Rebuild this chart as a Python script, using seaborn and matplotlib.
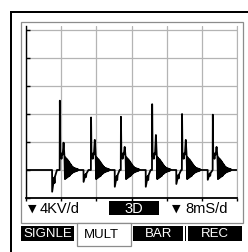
import numpy as np
import pandas as pd
import seaborn as sns
import matplotlib.pyplot as plt
from matplotlib.patches import Rectangle

# readings taken off the scope screen (x in ms, y in kV)
spike_ms = [7.7, 14.8, 21.6, 28.7, 35.5, 42.5]
spike_kv = [9.9, 7.5, 7.6, 9.4, 8.0, 7.9]
dip_lead_ms = [1.75, 1.7, 1.4, 1.45, 1.3, 1.15]
dip_kv = [-3.1, -1.7, -2.4, -2.4, -2.0, -1.4]
hump_kv = [3.9, 4.3, 3.3, 5.0, 4.3, 3.3]

# common pulse shape: fork after the dip, step after the spike, ringing
fork_ms = [0.0, 0.45, 0.55, 0.65, 0.95, 1.1]
fork_frac = [1.0, 0.35, 0.6, 0.3, 0.1, 0.0]
step_ms = [0.1, 0.25, 0.38, 0.5, 0.65]
step_kv = [1.9, 2.3, 1.6, 2.4, 2.2]
ring_kv = [1.9, -1.3, 1.8, -1.2, 1.6, -1.1, 1.5, -1.0, 1.3, -0.9, 1.1, -0.8,
           0.9, -0.6, 0.7, -0.5, 0.5, -0.4, 0.4, -0.3, 0.3, -0.25, 0.25, -0.2,
           0.2, -0.15, 0.15, -0.1, 0.1, 0.0]

x_max_ms = 48
kv_per_div = 4
ms_per_div = 8

# assemble the trace
t_pts = [0.0]
v_pts = [0.0]
for s, pk, lead, d, hp in zip(spike_ms, spike_kv, dip_lead_ms, dip_kv, hump_kv):
    t0 = s - lead
    t_pts.append(t0 - 0.02)
    v_pts.append(0.0)
    for f_t, f_v in zip(fork_ms, fork_frac):
        t_pts.append(t0 + f_t)
        v_pts.append(d * f_v)
    t_pts.append(s - 0.04)
    v_pts.append(0.0)
    t_pts.append(s)
    v_pts.append(pk)
    for st, sv in zip(step_ms, step_kv):
        t_pts.append(s + st)
        v_pts.append(sv)
    t_pts.append(s + 0.85)
    v_pts.append(hp)
    for i, rv in enumerate(ring_kv):
        t_pts.append(s + 1.05 + i * 0.11)
        v_pts.append(rv)
t_pts.append(x_max_ms)
v_pts.append(0.0)

trace = pd.DataFrame({"ms": t_pts, "kV": v_pts})

W, H = 248, 253
sns.set_style("white")
plt.rcParams["font.family"] = ["Liberation Sans", "DejaVu Sans"]

fig = plt.figure(figsize=(W / 100, H / 100), dpi=100)
ax = fig.add_axes([26 / W, 1 - 199 / H, (237 - 26) / W, (199 - 27) / H])

sns.lineplot(data=trace, x="ms", y="kV", ax=ax, color="black",
             linewidth=1.3, estimator=None, sort=False)

ax.set_xlim(0, x_max_ms)
ax.set_ylim(-kv_per_div, 5 * kv_per_div + 0.57)
ax.set_xticks(np.arange(0, x_max_ms + 1, ms_per_div))
ax.set_yticks(np.arange(-kv_per_div, 5 * kv_per_div + 1, kv_per_div))
ax.grid(True, color="#b4b4b4", linewidth=0.9)
ax.set_axisbelow(True)
ax.set_xlabel("")
ax.set_ylabel("")
ax.set_xticklabels([])
ax.set_yticklabels([])
ax.tick_params(axis="y", direction="in", length=3, width=1, color="black", left=True)
ax.tick_params(axis="x", direction="out", length=2.5, width=1, color="black", bottom=True)
ax.spines["top"].set_visible(False)
ax.spines["right"].set_color("#b4b4b4")
ax.spines["left"].set_color("black")
ax.spines["bottom"].set_color("black")
ax.spines["left"].set_linewidth(1.0)
ax.spines["bottom"].set_linewidth(1.3)


def box(x0, y0, x1, y1, **kw):
    fig.patches.append(Rectangle((x0 / W, 1 - y1 / H), (x1 - x0) / W, (y1 - y0) / H,
                                 transform=fig.transFigure, **kw))


def label(x, y, s, **kw):
    fig.text(x / W, 1 - y / H, s, ha="center", va="center", **kw)


# device frame
box(10, 11.5, W + 2, 13.5, color="black", lw=0)
box(9.5, 11.5, 11.5, H + 2, color="black", lw=0)
box(20.5, 23, 242.5, 224, fill=False, edgecolor="#8c8c8c", lw=0.9)

# status row
label(32.5, 209, "\u25bc", fontsize=8, family="DejaVu Sans", color="black")
label(60, 209, "4KV/d", fontsize=10.5, color="black")
box(109, 202, 159, 216, color="black", lw=0)
label(134, 209, "3D", fontsize=10.5, color="white")
label(176.5, 209, "\u25bc", fontsize=8, family="DejaVu Sans", color="black")
label(207, 209, "8mS/d", fontsize=10.5, color="black")

# tab row
box(21, 227, 74, 242, color="black", lw=0)
box(77, 224, 131, 247, facecolor="white", edgecolor="#8c8c8c", lw=0.9)
box(133, 227, 183, 242, color="black", lw=0)
box(184.5, 227, 185.5, 242, color="black", lw=0)
box(188, 227, 242, 242, color="black", lw=0)
label(48, 234.5, "SIGNLE", fontsize=9.5, color="white")
label(101, 235, "MULT", fontsize=9.5, color="black")
label(159, 234.5, "BAR", fontsize=9.5, color="white")
label(215, 234.5, "REC", fontsize=9.5, color="white")

fig.savefig("out.png", dpi=100)
